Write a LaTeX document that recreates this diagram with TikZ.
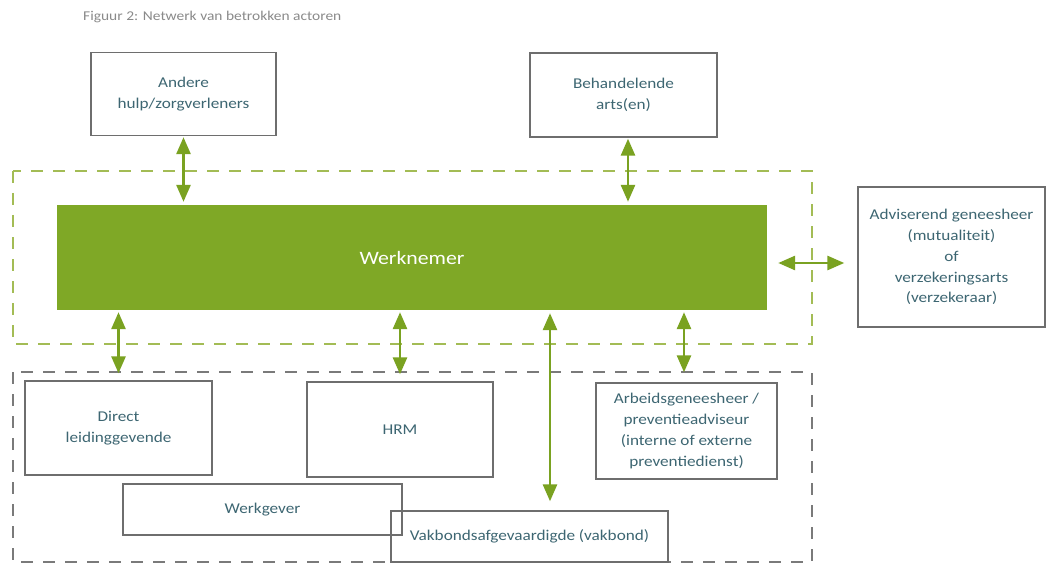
\documentclass[tikz,border=0pt]{standalone}
\usepackage{fontspec}
\setmainfont{Carlito}[FakeStretch=1.15]
\usetikzlibrary{arrows.meta}
\definecolor{leaf}{HTML}{7FA826}
\definecolor{arrowgreen}{HTML}{7AA221}
\definecolor{dashgreen}{HTML}{A3BC55}
\definecolor{boxgray}{HTML}{6E6E6E}
\definecolor{dashgray}{HTML}{7A7A7A}
\definecolor{txt}{HTML}{3D6672}
\definecolor{titlegray}{HTML}{8A8A8A}
\tikzset{
  actor/.style={draw=boxgray, line width=1.4bp, align=center, text=txt,
    font=\fontsize{15}{21}\selectfont, inner sep=0pt},
  arr/.style={draw=arrowgreen, line width=2.8bp,
    {Triangle[width=14bp,length=17bp]}-{Triangle[width=14bp,length=17bp]}},
  greenzone/.style={draw=dashgreen, line width=1.6bp, dash pattern=on 12bp off 10bp},
  grayzone/.style={draw=dashgray, line width=1.4bp, dash pattern=on 12bp off 10bp},
}
\begin{document}
\begin{tikzpicture}[x=1bp,y=-1bp]
\useasboundingbox (0,0) rectangle (1061,567);
\fill[white] (0,0) rectangle (1061,567);

\node[anchor=west, text=titlegray, font=\fontsize{13.5}{16}\selectfont, inner sep=0pt] (title) at (83,17) {Figuur 2: Netwerk van betrokken actoren};

% dashed zones
\draw[greenzone] (13,171) rectangle (812,344);
\draw[grayzone] (13,372) rectangle (812,562);

% top boxes
\node[actor, minimum width=185bp, minimum height=83bp] (andere) at (183.5,94) {Andere\\hulp/zorgverleners};
\node[actor, minimum width=187bp, minimum height=84bp] (behand) at (623.5,95) {Behandelende\\arts(en)};

% central
\node[fill=leaf, draw=none, minimum width=710bp, minimum height=105bp, text=white,
  font=\fontsize{19}{22}\selectfont, inner sep=0pt] (werknemer) at (412,257.5) {Werknemer};

% right box
\node[actor, minimum width=187bp, minimum height=140bp] (advis) at (951.5,257) {Adviserend geneesheer\\(mutualiteit)\\of\\verzekeringsarts\\(verzekeraar)};

% bottom boxes
\node[actor, minimum width=187bp, minimum height=94bp] (direct) at (118.5,428) {Direct\\leidinggevende};
\node[actor, minimum width=186bp, minimum height=95bp] (hrm) at (400,429.5) {HRM};
\node[actor, minimum width=181bp, minimum height=96bp] (arbeids) at (686.5,431) {Arbeidsgeneesheer /\\preventieadviseur\\(interne of externe\\preventiedienst)};
\node[actor, minimum width=279bp, minimum height=51bp] (werkgever) at (262.5,509.5) {Werkgever};
\node[actor, minimum width=277bp, minimum height=51bp] (vakbond) at (529.5,536.5) {Vakbondsafgevaardigde (vakbond)};

% connectors
\draw[arr, shorten <=1bp, shorten >=3bp] (andere.south) -- (andere.south |- werknemer.north);
\draw[arr, shorten <=1bp, shorten >=3bp] ([xshift=4.5bp]behand.south) -- ([xshift=4.5bp]behand.south |- werknemer.north);
\draw[arr, shorten <=2bp, shorten >=7bp] (direct.north |- werknemer.south) -- (direct.north);
\draw[arr, shorten <=2bp, shorten >=7bp] (hrm.north |- werknemer.south) -- (hrm.north);
\draw[arr, shorten <=2bp, shorten >=10bp] ([xshift=-2.5bp]arbeids.north |- werknemer.south) -- ([xshift=-2.5bp]arbeids.north);
\draw[arr, shorten <=3bp, shorten >=9bp] ([xshift=20.5bp]vakbond.north |- werknemer.south) -- ([xshift=20.5bp]vakbond.north);
\draw[arr, shorten <=11bp, shorten >=13bp] ([yshift=-5.5bp]werknemer.east) -- ([yshift=-5.5bp]werknemer.east -| advis.west);
\end{tikzpicture}
\end{document}
